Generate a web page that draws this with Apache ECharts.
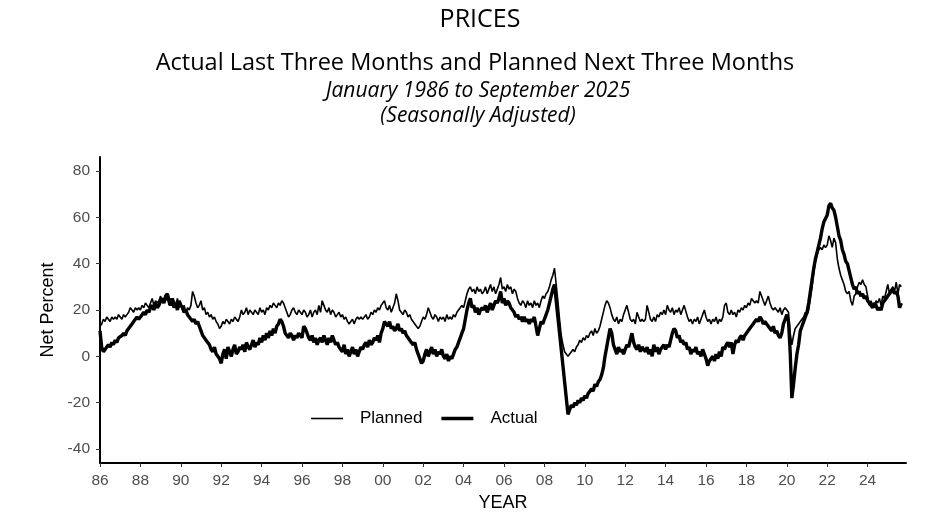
<!DOCTYPE html>
<html>
<head>
<meta charset="utf-8">
<script src="https://cdn.jsdelivr.net/npm/echarts@6/dist/echarts.min.js"></script>
<style>
html,body{margin:0;padding:0;background:#fff;}
#chart{width:936px;height:526px;}
</style>
</head>
<body>
<div id="chart"></div>
<script>
// Monthly data, January 1986 to September 2025 (net percent)
const startYear = 1986;
const planned = [
/*1986*/13,14,16,15,17,16,15,17,16,17,16,18,
/*1987*/17,16,18,17,18,19,21,20,19,21,20,21,
/*1988*/20,22,21,23,22,21,23,25,22,24,23,24,
/*1989*/26,23,25,24,26,22,25,23,24,22,25,21,
/*1990*/23,20,22,19,21,20,22,28,26,23,21,22,
/*1991*/24,20,21,18,19,17,18,16,17,15,14,12,
/*1992*/13,15,14,16,15,14,16,15,17,16,15,17,
/*1993*/20,18,19,21,18,20,19,18,20,19,18,21,
/*1994*/19,20,18,21,20,22,21,23,22,21,23,22,
/*1995*/24,23,21,19,17,18,20,21,19,18,20,19,
/*1996*/18,20,19,17,18,20,17,19,20,18,22,19,
/*1997*/24,22,20,19,21,18,20,19,17,18,19,17,
/*1998*/18,16,17,15,14,15,16,14,16,17,16,17,
/*1999*/16,17,18,16,17,19,18,20,19,21,20,22,
/*2000*/23,24,21,20,22,19,21,23,27,24,20,19,
/*2001*/18,20,19,17,18,16,15,14,13,12,13,15,
/*2002*/17,16,18,21,19,17,16,18,17,15,17,16,
/*2003*/17,15,18,16,17,16,18,17,19,20,21,22,
/*2004*/21,24,27,29,30,28,29,27,30,28,29,27,
/*2005*/28,30,27,29,31,28,30,27,29,31,34,29,
/*2006*/30,28,31,29,30,27,29,28,25,23,22,24,
/*2007*/23,21,24,22,23,21,24,22,23,21,24,26,
/*2008*/25,27,28,30,33,35,38,31,24,16,9,5,
/*2009*/2,1,0,1,2,3,2,4,5,7,6,8,
/*2010*/7,9,8,10,11,9,12,10,11,13,16,19,
/*2011*/22,24,23,21,18,16,15,17,14,16,15,18,
/*2012*/20,22,19,16,15,16,14,19,17,15,16,15,
/*2013*/16,22,19,16,15,17,15,18,17,19,18,20,
/*2014*/18,22,20,19,21,18,20,19,21,18,20,22,
/*2015*/22,17,15,16,14,16,15,17,14,16,18,20,
/*2016*/17,15,16,14,16,15,17,14,16,15,17,22,
/*2017*/23,19,18,20,18,19,17,20,19,21,20,22,
/*2018*/21,23,22,25,24,23,24,23,28,26,24,22,
/*2019*/24,26,23,21,20,21,20,19,21,18,20,21,
/*2020*/21,19,10,5,9,12,13,14,15,16,17,19,
/*2021*/18,20,25,30,36,41,44,46,47,46,48,47,
/*2022*/48,52,50,47,51,49,42,38,35,33,31,28,
/*2023*/27,28,24,22,26,27,30,32,31,33,31,30,
/*2024*/30,22,24,22,21,24,23,25,22,26,25,28,
/*2025*/31,27,29,30,28,32,27,31,30
];
const actual = [
/*1986*/11,4,2,3,4,5,4,6,5,7,6,8,
/*1987*/8,9,10,9,11,12,13,14,15,16,17,16,
/*1988*/17,18,19,18,20,19,21,22,20,23,21,22,
/*1989*/24,25,23,26,27,24,22,25,21,23,20,24,
/*1990*/22,21,19,20,18,17,16,15,16,14,15,13,
/*1991*/11,9,8,7,6,5,3,2,4,1,0,-1,
/*1992*/-3,1,3,-1,4,2,0,3,5,1,2,4,
/*1993*/3,5,2,6,4,3,5,7,4,6,5,8,
/*1994*/6,9,7,10,8,11,9,12,10,13,14,16,
/*1995*/15,13,10,9,8,10,9,7,9,8,10,9,
/*1996*/8,13,12,10,8,7,9,6,8,5,7,8,
/*1997*/6,9,7,5,8,6,9,7,5,6,4,3,
/*1998*/2,5,1,3,0,2,4,1,3,0,2,4,
/*1999*/3,5,6,4,7,5,6,8,7,9,6,10,
/*2000*/12,15,14,13,15,12,13,11,12,14,11,12,
/*2001*/10,11,9,8,7,6,5,6,3,1,-1,-3,
/*2002*/-2,1,3,0,2,4,1,3,0,2,1,3,
/*2003*/0,-1,1,-2,0,-1,1,3,4,6,8,10,
/*2004*/12,16,20,23,25,21,22,19,21,18,20,21,
/*2005*/20,22,19,21,23,20,22,24,23,25,28,23,
/*2006*/25,22,24,23,21,20,19,17,18,16,17,15,
/*2007*/17,15,16,14,16,15,17,13,9,12,15,14,
/*2008*/16,18,20,23,26,29,31,24,17,10,3,-4,
/*2009*/-11,-18,-25,-23,-21,-22,-20,-21,-19,-20,-18,-19,
/*2010*/-17,-18,-16,-15,-14,-15,-12,-13,-11,-10,-8,-5,
/*2011*/0,4,8,12,10,5,3,1,4,2,3,1,
/*2012*/3,5,4,7,10,6,4,3,5,2,4,3,
/*2013*/2,4,1,3,0,5,2,4,1,3,4,5,
/*2014*/3,5,4,7,10,12,11,8,9,6,7,5,
/*2015*/6,3,4,1,3,2,4,1,2,0,3,1,
/*2016*/-1,-4,-2,-1,0,-2,1,-1,2,0,4,3,
/*2017*/5,6,4,6,1,5,7,6,8,9,7,9,
/*2018*/10,11,12,13,14,15,16,15,17,16,14,15,
/*2019*/14,13,12,11,13,10,11,9,8,10,14,16,
/*2020*/18,15,2,-18,-12,-5,1,5,11,13,15,17,
/*2021*/19,23,28,33,38,42,45,48,51,55,58,58,
/*2022*/61,65,66,64,63,60,56,52,50,46,44,41,
/*2023*/40,37,34,31,29,30,27,28,26,27,25,26,
/*2024*/24,23,22,21,23,22,20,21,20,23,24,25,
/*2025*/26,27,28,29,27,28,26,21,23
];
const xTickYears = [1986,1988,1990,1992,1994,1996,1998,2000,2002,2004,2006,2008,2010,2012,2014,2016,2018,2020,2022,2024];
const yTicks = [-40,-20,0,20,40,60,80];

const toPairs = arr => arr.map((v, i) => [startYear + i / 12, v]);

const chart = echarts.init(document.getElementById('chart'), null, {renderer: 'canvas'});
const titleFont = '"Open Sans", "Noto Sans", sans-serif';
const sansFont = '"Liberation Sans", Arial, sans-serif';
chart.setOption({
  animation: false,
  backgroundColor: '#fff',
  title: [
    {text: 'PRICES', left: 475, top: 2, textAlign: 'center',
     textStyle: {fontFamily: titleFont, fontSize: 25, fontWeight: 'normal', color: '#000'}},
    {text: 'Actual Last Three Months and Planned Next Three Months', left: 470, top: 46, textAlign: 'center',
     textStyle: {fontFamily: titleFont, fontSize: 23.5, fontWeight: 'normal', color: '#000'}},
    {text: 'January 1986 to September 2025', left: 473, top: 76, textAlign: 'center',
     textStyle: {fontFamily: titleFont, fontSize: 21, fontStyle: 'italic', fontWeight: 'normal', color: '#000'}},
    {text: '(Seasonally Adjusted)', left: 473, top: 101, textAlign: 'center',
     textStyle: {fontFamily: titleFont, fontSize: 21, fontStyle: 'italic', fontWeight: 'normal', color: '#000'}}
  ],
  legend: {
    data: [
      {name: 'Planned', icon: 'path://M0,0 L32,0 L32,1.6 L0,1.6 Z'},
      {name: 'Actual', icon: 'path://M0,0 L32,0 L32,3.6 L0,3.6 Z'}
    ],
    left: 311, top: 410,
    padding: 0,
    itemWidth: 32, itemHeight: 14, itemGap: 19,
    itemStyle: {color: '#000', borderWidth: 0},
    lineStyle: {width: 0},
    textStyle: {fontFamily: sansFont, fontSize: 17, color: '#000', padding: [0, 0, 0, 12]}
  },
  grid: {left: 100, right: 30, top: 157, bottom: 63, containLabel: false},
  xAxis: {
    type: 'value', min: 1986, max: 2025.9,
    name: 'YEAR', nameLocation: 'middle', nameGap: 31,
    nameTextStyle: {fontFamily: sansFont, fontSize: 18, color: '#000'},
    axisLine: {show: true, onZero: false, lineStyle: {color: '#000', width: 2}},
    axisTick: {show: true, length: 4, customValues: xTickYears, lineStyle: {color: '#333', width: 1}},
    axisLabel: {customValues: xTickYears, margin: 10, color: '#4d4d4d', fontSize: 15.5,
      fontFamily: sansFont,
      formatter: v => String(Math.round(v) % 100).padStart(2, '0')},
    splitLine: {show: false}
  },
  yAxis: {
    type: 'value', min: -46, max: 86,
    name: 'Net Percent', nameLocation: 'middle', nameGap: 42, nameRotate: 90,
    nameTextStyle: {fontFamily: sansFont, fontSize: 18, color: '#000'},
    axisLine: {show: true, onZero: false, lineStyle: {color: '#000', width: 2}},
    axisTick: {show: true, length: 4, customValues: yTicks, lineStyle: {color: '#333', width: 1}},
    axisLabel: {customValues: yTicks, margin: 10, color: '#4d4d4d', fontSize: 15.5,
      fontFamily: sansFont},
    splitLine: {show: false}
  },
  series: [
    {name: 'Planned', type: 'line', data: toPairs(planned), symbol: 'none', showSymbol: false,
     lineStyle: {color: '#000', width: 1.6}, itemStyle: {color: '#000'}, z: 3},
    {name: 'Actual', type: 'line', data: toPairs(actual), symbol: 'none', showSymbol: false,
     lineStyle: {color: '#000', width: 3.4}, itemStyle: {color: '#000'}, z: 2}
  ]
});
</script>
</body>
</html>
